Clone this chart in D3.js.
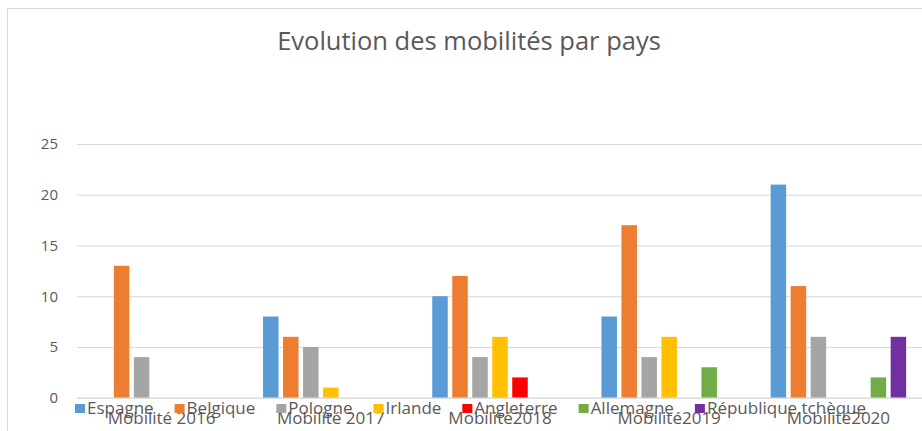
<!DOCTYPE html>
<html>
<head>
<meta charset="utf-8">
<script src="https://cdn.jsdelivr.net/npm/d3@7"></script>
<style>
    body { margin: 0; background: #fff; }
    text { font-family: "Open Sans", sans-serif; }
</style>
</head>
<body>
<svg id="chart" width="922" height="431"></svg>
<script>
// données du graphique
const categories = ["Mobilité 2016", "Mobilité 2017", "Mobilité2018", "Mobilité2019", "Mobilité2020"];
const countries = ["Espagne", "Belgique", "Pologne", "Irlande", "Angleterre", "Allemagne", "République tchèque"];
const espagne = [0, 8, 10, 8, 21];
const belgique = [13, 6, 12, 17, 11];
const pologne = [4, 5, 4, 4, 6];
const irlande = [0, 1, 6, 6, 0];
const angleterre = [0, 0, 2, 0, 0];
const allemagne = [0, 0, 0, 3, 2];
const tcheque = [0, 0, 0, 0, 6];
const yTicks = [0, 5, 10, 15, 20, 25];
const colors = ["#5b9bd5", "#ed7d31", "#a5a5a5", "#ffc000", "#ff0000", "#70ad47", "#7030a0"];

const series = [espagne, belgique, pologne, irlande, angleterre, allemagne, tcheque];

const svg = d3.select("svg#chart");
const W = 922;

// cadre
svg.append("line").attr("x1", 7.5).attr("x2", 7.5).attr("y1", 8).attr("y2", 431)
    .style("stroke", "#d9d9d9");
svg.append("line").attr("x1", 7).attr("x2", W).attr("y1", 8.5).attr("y2", 8.5)
    .style("stroke", "#d9d9d9");

// titre
svg.append("text")
    .attr("x", 469).attr("y", 50)
    .attr("text-anchor", "middle")
    .style("font-size", "25.5px")
    .style("fill", "#595959")
    .text("Evolution des mobilités par pays");

const plotLeft = 77;
const plotRight = 923;
const y0 = 397.7;
const yTop = 144;

let scaleX = d3.scaleBand()
    .domain(categories)
    .range([plotLeft, plotRight])
    .paddingInner(0.1726)
    .paddingOuter(0.0863);

let scaleX1 = d3.scaleBand()
    .domain(d3.range(countries.length))
    .range([0, scaleX.bandwidth()])
    .paddingInner(0.225)
    .paddingOuter(0.1125);

let scaleY = d3.scaleLinear()
    .domain([0, 25])
    .range([y0, yTop]);

// grille + graduations
let axisY = d3.axisLeft(scaleY)
    .tickValues(yTicks)
    .tickSize(-(W - plotLeft))
    .tickPadding(19);
let gy = svg.append("g")
    .attr("transform", `translate(${plotLeft}, 0)`)
    .call(axisY);
gy.select(".domain").remove();
gy.selectAll(".tick line").style("stroke", "#d9d9d9");
gy.selectAll(".tick text")
    .style("font-size", "15px")
    .style("fill", "#595959")
    .style("font-family", "'Open Sans', sans-serif");

// barres
let groups = svg.append("g").selectAll("g")
    .data(categories)
    .join("g")
    .attr("transform", d => `translate(${scaleX(d)}, 0)`);

groups.selectAll("rect")
    .data((d, i) => series.map((s, k) => ({k: k, v: s[i]})).filter(e => e.v > 0))
    .join("rect")
    .attr("x", d => scaleX1(d.k))
    .attr("width", scaleX1.bandwidth())
    .attr("y", d => scaleY(d.v))
    .attr("height", d => y0 - scaleY(d.v))
    .style("fill", d => colors[d.k]);

// axe horizontal
let axisX = d3.axisBottom(scaleX).tickSize(0).tickPadding(14);
let gx = svg.append("g")
    .attr("transform", `translate(0, ${y0})`)
    .call(axisX);
gx.select(".domain").attr("d", `M${plotLeft},0.5H${W}`).style("stroke", "#d9d9d9");
gx.selectAll(".tick text")
    .style("font-size", "17px")
    .style("fill", "#595959")
    .style("font-family", "'Open Sans', sans-serif");

// légende (chevauche les libellés comme dans l'original)
let legend = svg.append("g");
let lx = 75;
countries.forEach((c, i) => {
    legend.append("rect")
        .attr("x", lx).attr("y", 404)
        .attr("width", 10).attr("height", 9)
        .style("fill", colors[i]);
    let t = legend.append("text")
        .attr("x", lx + 12).attr("y", 414)
        .style("font-size", "17px")
        .style("fill", "#595959")
        .text(c);
    lx += 12 + t.node().getComputedTextLength() + 21;
});
</script>
</body>
</html>
